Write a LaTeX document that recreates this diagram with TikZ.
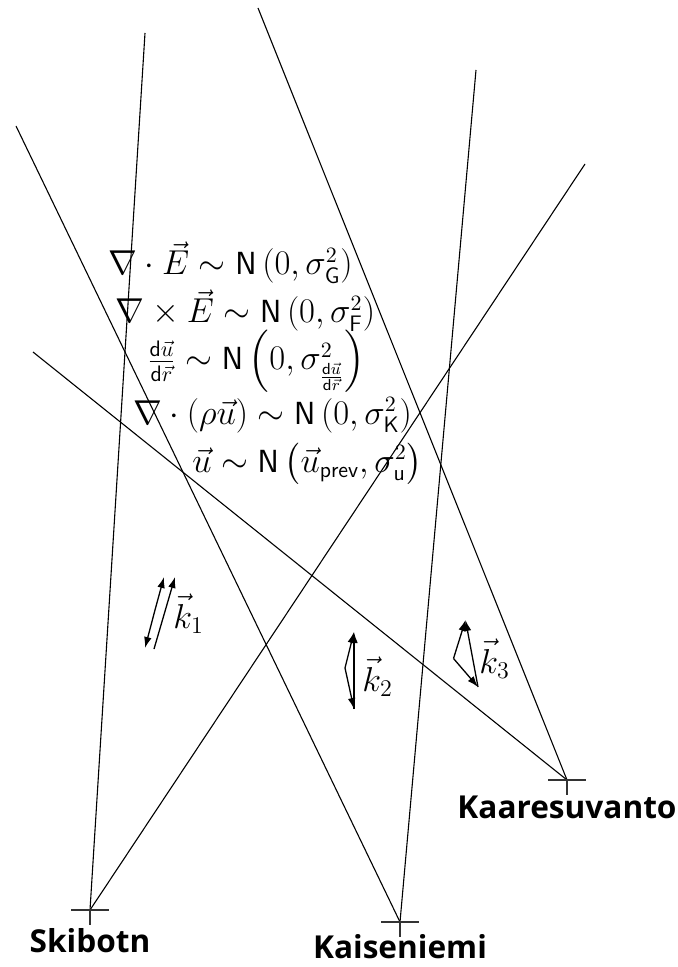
\documentclass[tikz,border=0pt]{standalone}
\usepackage{amsmath}
\usepackage{fontspec}
\newfontfamily\stfont{Open Sans}
\usetikzlibrary{arrows.meta}
\begin{document}
\begin{tikzpicture}[x=0.5pt,y=-0.5pt,
  ray/.style={line width=0.55pt,black},
  stmark/.style={line width=0.55pt,black!80},
  kvec/.style={line width=0.65pt,-{Latex[length=5.5pt,width=3.8pt]}},
  station/.style={anchor=base,inner sep=0pt,font=\stfont\bfseries\fontsize{15.8}{18}\selectfont},
  eq/.style={anchor=base,inner sep=0pt,font=\fontsize{16}{19}\selectfont},
  klab/.style={anchor=base west,inner sep=0pt,font=\fontsize{18}{22}\selectfont}]
\useasboundingbox (0,0) rectangle (678,967);
% stations
\coordinate (sk) at (90,910);
\coordinate (ka) at (400,922);
\coordinate (kr) at (567,780);
% ray ends
\coordinate (skA) at (145,33);
\coordinate (skB) at (585,164);
\coordinate (kaA) at (16,126);
\coordinate (kaB) at (476,70);
\coordinate (krA) at (258,8);
\coordinate (krB) at (33,352);
\draw[ray] (sk) -- (skA);
\draw[ray] (sk) -- (skB);
\draw[ray] (ka) -- (kaA);
\draw[ray] (ka) -- (kaB);
\draw[ray] (kr) -- (krA);
\draw[ray] (kr) -- (krB);
% station markers
\foreach \s in {sk,ka,kr}{
  \draw[stmark] ([xshift=-9.5pt]\s) -- ([xshift=9.5pt]\s);
  \draw[stmark] (\s) -- ([yshift=-7.5pt]\s);
}
\node[station] (skl) at (90,952) {Skibotn};
\node[station] (kal) at (400,958) {Kaiseniemi};
\node[station] (krl) at (567,818) {Kaaresuvanto};
% equations
\node[eq] (e1) at (230.5,275) {$\nabla\cdot\vec{E}\sim\mathsf{N}\,(0,\sigma^2_{\mathsf{G}})$};
\node[eq] (e2) at (245.5,323) {$\nabla\times\vec{E}\sim\mathsf{N}\,(0,\sigma^2_{\mathsf{F}})$};
\node[eq] (e3) at (256,370) {$\frac{\mathsf{d}\vec{u}}{\mathsf{d}\vec{r}}\sim\mathsf{N}\,\Bigl(0,\sigma^2_{\frac{\mathsf{d}\vec{u}}{\mathsf{d}\vec{r}}}\Bigr)$};
\node[eq] (e4) at (272.5,424) {$\nabla\cdot(\rho\vec{u})\sim\mathsf{N}\,(0,\sigma^2_{\mathsf{K}})$};
\node[eq] (e5) at (307.5,472) {$\vec{u}\sim\mathsf{N}\,\bigl(\vec{u}_{\mathsf{prev}},\sigma^2_{\mathsf{u}}\bigr)$};
% k1
\coordinate (o1) at (155,610);
\coordinate (t1) at (164,577);
\coordinate (b1) at (145,648);
\coordinate (d1s) at (154,649);
\coordinate (d1e) at (175,577);
\draw[kvec] (o1) -- (t1);
\draw[kvec] (o1) -- (b1);
\draw[kvec] (d1s) -- (d1e);
\node[klab] (k1) at (173,628) {$\vec{k}_1$};
% k2
\coordinate (o2) at (345,668);
\coordinate (t2) at (354,632);
\coordinate (b2) at (354,709);
\draw[kvec] (o2) -- (t2);
\draw[kvec] (o2) -- (b2);
\draw[kvec] (b2) -- (t2);
\node[klab] (k2) at (362,691) {$\vec{k}_2$};
% k3
\coordinate (o3) at (453.5,658.5);
\coordinate (t3) at (465.5,620);
\coordinate (b3) at (478,687);
\draw[kvec] (o3) -- (t3);
\draw[kvec] (o3) -- (b3);
\draw[kvec] (b3) -- (t3);
\node[klab] (k3) at (479,673) {$\vec{k}_3$};
\end{tikzpicture}
\end{document}
